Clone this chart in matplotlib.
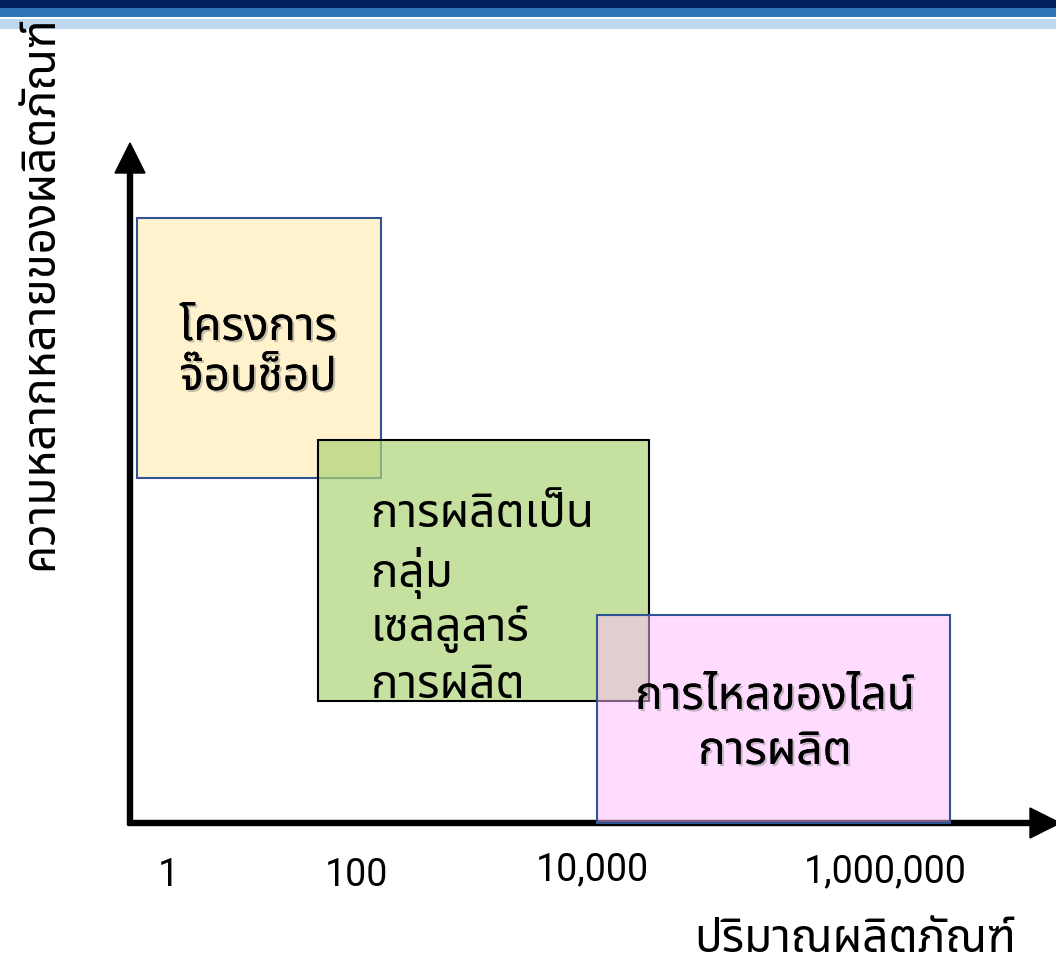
import matplotlib
matplotlib.use("Agg")
import matplotlib.pyplot as plt
from matplotlib import font_manager as fm
from matplotlib.ft2font import FT2Font
from matplotlib.patches import Rectangle
import matplotlib.patheffects as pe

# ---------------- data ----------------
box_lines = [["โครงการ", "จ๊อบช็อป"],
             ["การผลิตเป็น", "กลุ่ม", "เซลลูลาร์", "การผลิต"],
             ["การไหลของไลน์", "การผลิต"]]
box_x0 = [137, 318, 597]
box_x1 = [381, 649, 950]
box_y0 = [218, 440, 615]
box_y1 = [478, 701, 823]
tick_labels = ["1", "100", "10,000", "1,000,000"]
tick_pos = [168, 356, 592, 885]
xlabel = "ปริมาณผลิตภัณฑ์"
ylabel = "ความหลากหลายของผลิตภัณฑ์"

# ---------------- font with Thai glyphs ----------------
thai_family = None
cands = []
for f in fm.fontManager.ttflist:
    try:
        if 0x0E01 in FT2Font(f.fname).get_charmap():
            cands.append(f.name)
    except Exception:
        pass
for pref in ["Noto Sans Thai", "Noto Sans Thai UI", "Tlwg Typo", "Loma", "Garuda", "Sarabun"]:
    if pref in cands:
        thai_family = pref
        break
if thai_family is None and cands:
    thai_family = cands[0]
fam = [thai_family, "DejaVu Sans"] if thai_family else ["DejaVu Sans"]

W, H = 1056, 967
fig = plt.figure(figsize=(W / 100, H / 100), dpi=100)
ax = fig.add_axes([0, 0, 1, 1])
ax.set_xlim(0, W)
ax.set_ylim(H, 0)
ax.axis("off")

# top bands
ax.add_patch(Rectangle((0, 0), W, 8, color="#002060", lw=0, zorder=1))
ax.add_patch(Rectangle((0, 8), W, 9, color="#2E75B6", lw=0, zorder=1))
ax.add_patch(Rectangle((0, 19), W, 10, color="#BDD7EE", lw=0, zorder=1))

# boxes
face = ["#FFF2CC", "#ADD377", "#FFBBFF"]
alphas = [1.0, 0.7, 0.5]
edges = ["#2F5597", "black", "#2F5597"]
for i in range(3):
    ax.add_patch(Rectangle((box_x0[i], box_y0[i]), box_x1[i] - box_x0[i], box_y1[i] - box_y0[i],
                           facecolor=matplotlib.colors.to_rgba(face[i], alphas[i]),
                           edgecolor=edges[i], lw=1.5, zorder=3 + i))

# axes arrows
ox, oy = 130, 823
ax.arrow(ox, oy + 2, 0, 143 - oy - 2, width=5, head_width=30, head_length=30,
         length_includes_head=True, color="black", zorder=2)
ax.arrow(ox - 2, oy, 1060 - ox + 2, 0, width=5, head_width=30, head_length=30,
         length_includes_head=True, color="black", zorder=2)

shadow = [pe.withSimplePatchShadow(offset=(1.5, -1.5), shadow_rgbFace="gray", alpha=0.45), pe.Normal()]

# box texts (one text per line)
line_x = [258, 371, 775]
line_ha = ["center", "left", "center"]
line_y = [[328, 378], [515, 573, 629, 686], [697, 752]]
use_shadow = [True, False, True]
for i in range(3):
    for s, y in zip(box_lines[i], line_y[i]):
        ax.text(line_x[i], y, s, fontsize=33, family=fam, ha=line_ha[i], va="center",
                zorder=10, path_effects=shadow if use_shadow[i] else None)

# tick labels
tick_y = [876, 876, 870, 872]
for t, x, y in zip(tick_labels, tick_pos, tick_y):
    ax.text(x, y, t, fontsize=27, family=["Roboto", "DejaVu Sans"],
            ha="center", va="center", zorder=10)

ax.text(855, 940, xlabel, fontsize=33, family=fam, ha="center", va="center", zorder=10)
ax.text(40, 293, ylabel, fontsize=33, family=fam, ha="center", va="center",
        rotation=90, zorder=10)

fig.savefig("out.png", dpi=100)
